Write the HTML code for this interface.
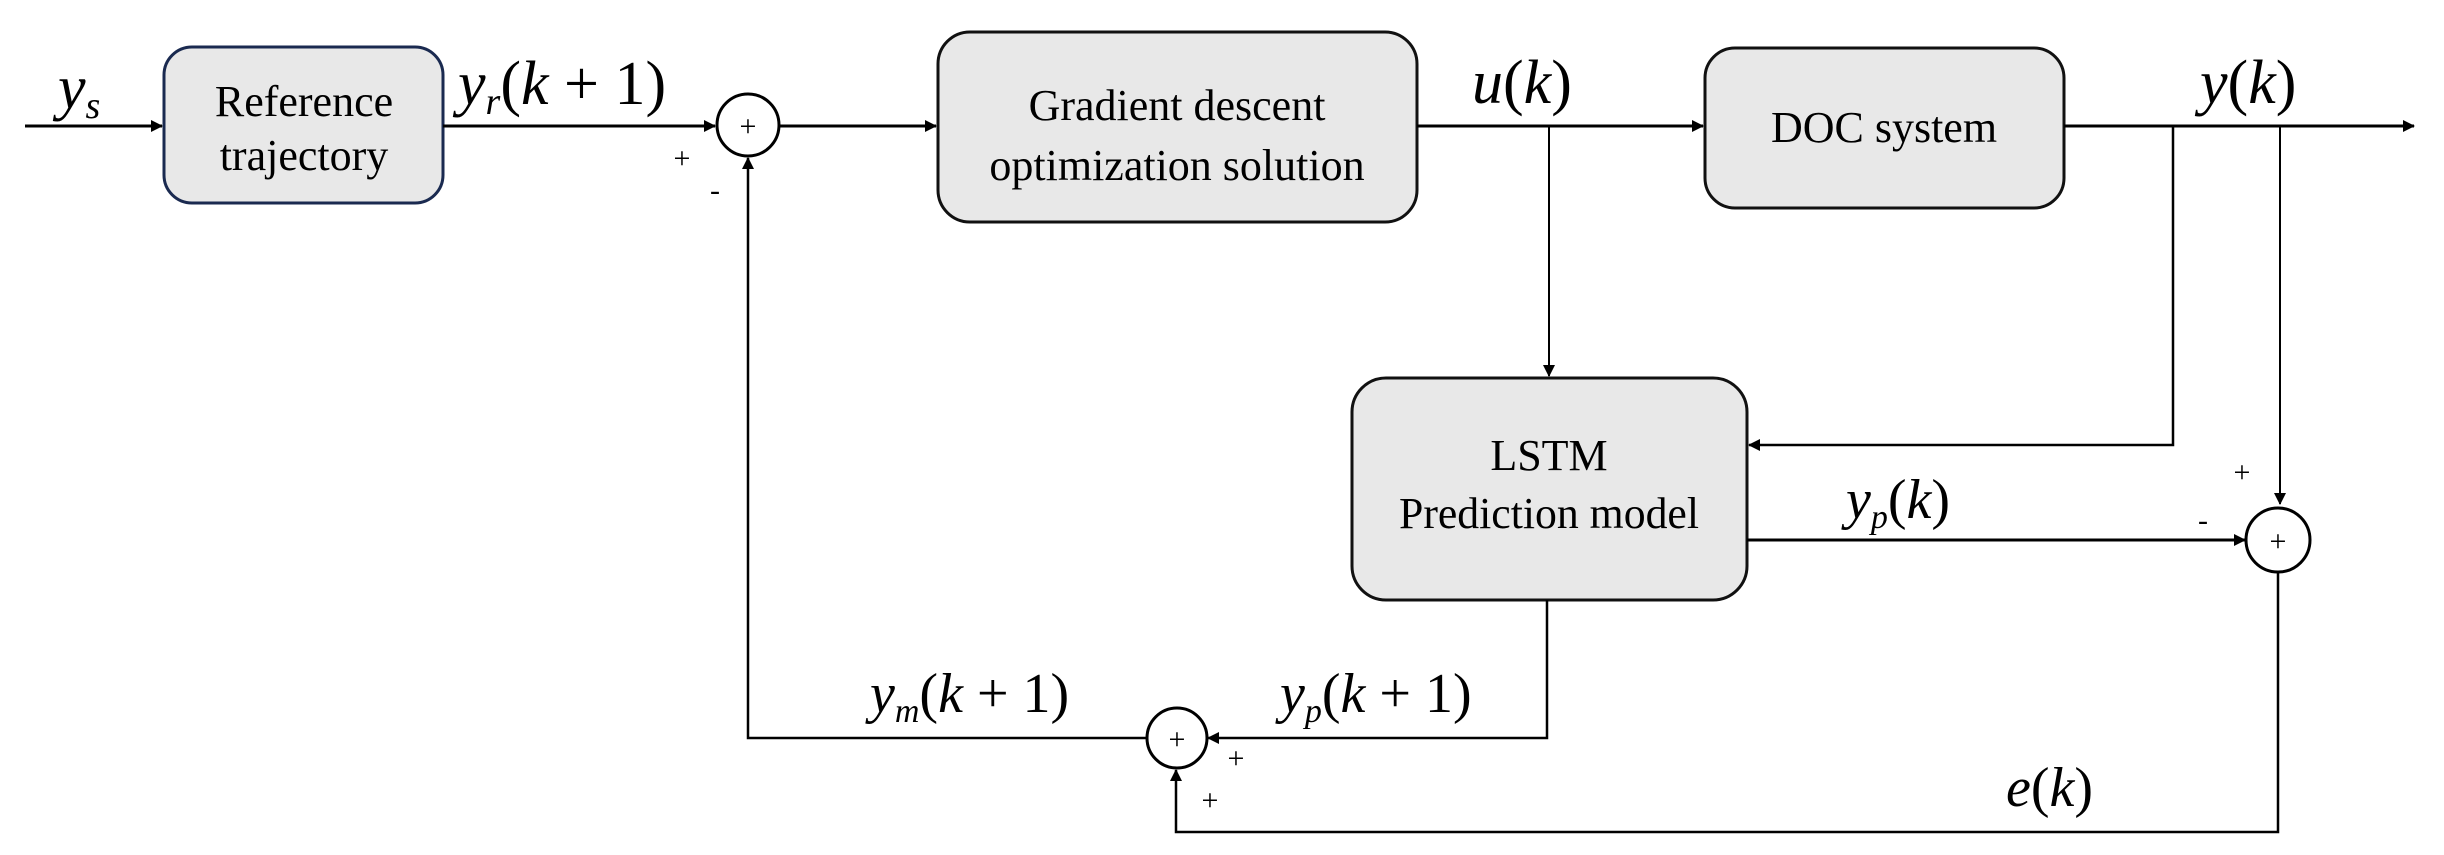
<!DOCTYPE html>
<html><head><meta charset="utf-8"><style>
html,body{margin:0;padding:0;background:#fff;}
svg{display:block;}
text{font-family:"Liberation Serif",serif;fill:#000;}
.m{font-style:italic;}
</style></head><body>
<svg width="2444" height="855" viewBox="0 0 2444 855" xmlns="http://www.w3.org/2000/svg">
<defs>
<marker id="a" markerWidth="12" markerHeight="12" refX="11" refY="6" orient="auto" markerUnits="userSpaceOnUse">
<path d="M0,0 L12,6 L0,12 z" fill="#000"/></marker>
</defs>
<g fill="#e8e8e8" stroke-width="3">
<rect x="164" y="47" width="279" height="156" rx="28" stroke="#1a2a50"/>
<rect x="938" y="32" width="479" height="190" rx="32" stroke="#111"/>
<rect x="1705" y="48" width="359" height="160" rx="30" stroke="#111"/>
<rect x="1352" y="378" width="395" height="222" rx="34" stroke="#111"/>
</g>
<g fill="none" stroke="#000" stroke-width="3">
<line x1="25" y1="126" x2="162" y2="126" marker-end="url(#a)"/>
<line x1="443" y1="126" x2="715" y2="126" marker-end="url(#a)"/>
<circle cx="748" cy="125" r="31"/>
<line x1="779" y1="126" x2="936" y2="126" marker-end="url(#a)"/>
<line x1="1417" y1="126" x2="1703" y2="126" marker-end="url(#a)"/>
<line x1="2064" y1="126" x2="2414" y2="126" marker-end="url(#a)"/>
<line x1="1549" y1="126" x2="1549" y2="376" stroke-width="2" marker-end="url(#a)"/>
<polyline points="2173,126 2173,445 1749,445" stroke-width="2.5" marker-end="url(#a)"/>
<line x1="2280" y1="126" x2="2280" y2="504" stroke-width="2" marker-end="url(#a)"/>
<line x1="1747" y1="540" x2="2245" y2="540" marker-end="url(#a)"/>
<circle cx="2278" cy="540" r="32"/>
<polyline points="2278,572 2278,832 1176,832 1176,770" stroke-width="2.5" marker-end="url(#a)"/>
<polyline points="1547,600 1547,738 1208,738" stroke-width="2.5" marker-end="url(#a)"/>
<circle cx="1177" cy="738" r="30"/>
<polyline points="1147,738 748,738 748,158" stroke-width="2.5" marker-end="url(#a)"/>
</g>
<g font-size="30" text-anchor="middle">
<text x="748" y="136">+</text>
<text x="2278" y="551">+</text>
<text x="1177" y="749">+</text>
<text x="682" y="168">+</text>
<text x="715" y="200">-</text>
<text x="2242" y="482">+</text>
<text x="2203" y="530">-</text>
<text x="1236" y="768">+</text>
<text x="1210" y="810">+</text>
</g>
<g font-size="44" text-anchor="middle">
<text x="304" y="116">Reference</text>
<text x="304" y="170">trajectory</text>
<text x="1177" y="120">Gradient descent</text>
<text x="1177" y="180">optimization solution</text>
<text x="1884" y="142">DOC system</text>
<text x="1549" y="470">LSTM</text>
<text x="1549" y="528" textLength="300" lengthAdjust="spacingAndGlyphs">Prediction model</text>
</g>
<g font-size="62">
<text x="58" y="108" class="m">y<tspan font-size="38" dy="10">s</tspan></text>
<text x="458" y="104"><tspan class="m">y</tspan><tspan class="m" font-size="38" dy="10">r</tspan><tspan dy="-10">(</tspan><tspan class="m">k</tspan> + 1)</text>
<text x="1472" y="103"><tspan class="m">u</tspan>(<tspan class="m">k</tspan>)</text>
<text x="2200" y="103"><tspan class="m">y</tspan>(<tspan class="m">k</tspan>)</text>
<text x="1846" y="518" font-size="56"><tspan class="m">y</tspan><tspan class="m" font-size="34" dy="10">p</tspan><tspan dy="-10">(</tspan><tspan class="m">k</tspan>)</text>
<text x="870" y="712" font-size="56"><tspan class="m">y</tspan><tspan class="m" font-size="34" dy="10">m</tspan><tspan dy="-10">(</tspan><tspan class="m">k</tspan> + 1)</text>
<text x="1280" y="712" font-size="56"><tspan class="m">y</tspan><tspan class="m" font-size="34" dy="10">p</tspan><tspan dy="-10">(</tspan><tspan class="m">k</tspan> + 1)</text>
<text x="2006" y="806" font-size="56"><tspan class="m">e</tspan>(<tspan class="m">k</tspan>)</text>
</g>
</svg>
</body></html>
